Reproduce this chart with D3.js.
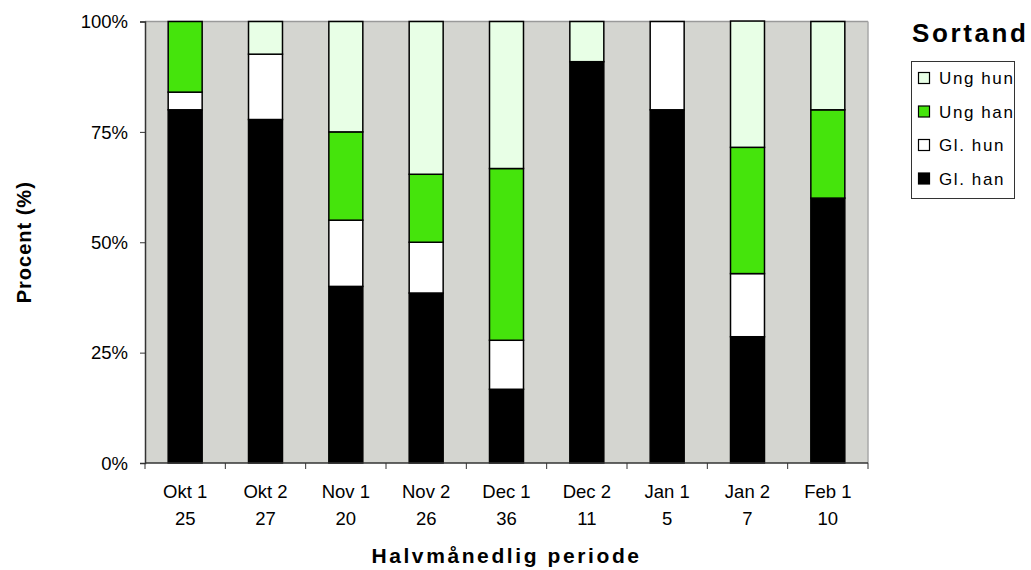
<!DOCTYPE html>
<html lang="da">
<head>
<meta charset="utf-8">
<title>Sortand - halvmånedlig periode</title>
<style>
	body { margin: 0; background: #ffffff; overflow: hidden; }
	svg { font-family: "Liberation Sans", Arial, Helvetica, sans-serif; }
	.tick text { font-size: 18px; fill: #000; }
</style>
</head>
<body>
<svg id="chart" width="1031" height="570"></svg>
<script src="https://cdn.jsdelivr.net/npm/d3@7/dist/d3.min.js"></script>
<script>
// perioder og antal fugle (n) pr. periode
var periods = ["Okt 1", "Okt 2", "Nov 1", "Nov 2", "Dec 1", "Dec 2", "Jan 1", "Jan 2", "Feb 1"];
var counts = [25, 27, 20, 26, 36, 11, 5, 7, 10];

// andel i procent, nederst til øverst
var glHan  = [80.0, 77.8, 40.0, 38.5, 16.7, 90.9, 80.0, 28.6, 60.0];
var glHun  = [4.0, 14.8, 15.0, 11.5, 11.1, 0, 20.0, 14.3, 0];
var ungHan = [16.0, 0, 20.0, 15.4, 38.9, 0, 0, 28.6, 20.0];
var ungHun = [0, 7.4, 25.0, 34.6, 33.3, 9.1, 0, 28.6, 20.0];

var seriesNames = ["Gl. han", "Gl. hun", "Ung han", "Ung hun"];
var seriesColors = ["#000000", "#ffffff", "#45e40c", "#e8ffe6"];
var yTicks = [0, 25, 50, 75, 100];

var margin = {top: 21.5, left: 145},
	width = 723,
	height = 441.5;

var svg = d3.select("#chart");
var g = svg.append("g").attr("transform", "translate(" + margin.left + "," + margin.top + ")");

var rows = periods.map(function(p, i) {
	return {period: p, "Gl. han": glHan[i], "Gl. hun": glHun[i], "Ung han": ungHan[i], "Ung hun": ungHun[i]};
});
var stacked = d3.stack().keys(seriesNames)(rows);

var pad = 0.577;
var x = d3.scaleBand().domain(periods).range([0, width]).paddingInner(pad).paddingOuter(pad / 2);
var y = d3.scaleLinear().domain([0, 100]).range([height, 0]);
var color = d3.scaleOrdinal().domain(seriesNames).range(seriesColors);

// plot baggrund
g.append("rect")
	.attr("width", width).attr("height", height)
	.attr("fill", "#d4d5d0");
g.append("line").attr("x1", 0).attr("x2", width).attr("y1", 0).attr("y2", 0)
	.attr("stroke", "#9a9a9a").attr("stroke-width", 1.5);
g.append("line").attr("x1", width).attr("x2", width).attr("y1", 0).attr("y2", height)
	.attr("stroke", "#a8a8a8").attr("stroke-width", 1.5);

// søjler
g.selectAll("g.layer")
	.data(stacked)
	.enter().append("g")
	.attr("class", "layer")
	.attr("fill", function(d) { return color(d.key); })
	.selectAll("rect")
	.data(function(d) { return d.filter(function(s) { return s[1] - s[0] > 0; }); })
	.enter().append("rect")
	.attr("x", function(d) { return x(d.data.period); })
	.attr("width", x.bandwidth())
	.attr("y", function(d) { return y(d[1]); })
	.attr("height", function(d) { return y(d[0]) - y(d[1]); })
	.attr("stroke", "#000")
	.attr("stroke-width", 1.5);

// y akse
var yAxis = g.append("g")
	.call(d3.axisLeft(y).tickValues(yTicks).tickSize(5).tickPadding(12)
		.tickFormat(function(d) { return d + "%"; }));
yAxis.select(".domain").attr("stroke", "#333").attr("stroke-width", 1.5);
yAxis.selectAll(".tick line").attr("stroke", "#333");
yAxis.selectAll(".tick text").style("font-size", "18.5px").attr("dy", "0.34em");

// x akse
var step = x.step();
var bounds = periods.map(function(p) { return x(p) - step * pad / 2; }).concat([width]);
var xAxis = g.append("g").attr("transform", "translate(0," + height + ")");
xAxis.append("line").attr("x1", 0).attr("x2", width)
	.attr("stroke", "#333").attr("stroke-width", 1.5);
xAxis.selectAll("line.tk").data(bounds).enter().append("line")
	.attr("class", "tk")
	.attr("x1", function(d) { return d; }).attr("x2", function(d) { return d; })
	.attr("y1", 0).attr("y2", 6)
	.attr("stroke", "#333");
var lbl = xAxis.selectAll("text.cat").data(periods).enter().append("text")
	.attr("class", "cat")
	.attr("text-anchor", "middle")
	.style("font-size", "18.5px")
	.attr("x", function(d) { return x(d) + x.bandwidth() / 2; });
lbl.append("tspan").attr("y", 35).text(function(d) { return d; })
	.attr("x", function(d) { return x(d) + x.bandwidth() / 2; });
lbl.append("tspan").attr("y", 62).text(function(d, i) { return counts[i]; })
	.attr("x", function(d) { return x(d) + x.bandwidth() / 2; });

// akse titler
svg.append("text")
	.attr("x", margin.left + width / 2).attr("y", 563)
	.attr("text-anchor", "middle")
	.style("font-size", "21px").style("font-weight", "bold").style("letter-spacing", "2.6px")
	.text("Halvmånedlig periode");

svg.append("text")
	.attr("transform", "translate(31," + (margin.top + height / 2) + ") rotate(-90)")
	.attr("text-anchor", "middle")
	.style("font-size", "20px").style("font-weight", "bold").style("letter-spacing", "1px")
	.text("Procent (%)");

// legende
svg.append("text")
	.attr("x", 912).attr("y", 42)
	.style("font-size", "26px").style("font-weight", "bold").style("letter-spacing", "2.6px")
	.text("Sortand");

var leg = svg.append("g");
leg.append("rect")
	.attr("x", 911.5).attr("y", 61.5).attr("width", 103).attr("height", 137)
	.attr("fill", "#fff").attr("stroke", "#333");
var items = leg.selectAll("g.item")
	.data(seriesNames.slice().reverse())
	.enter().append("g")
	.attr("class", "item")
	.attr("transform", function(d, i) { return "translate(918," + (78 + i * 33.5) + ")"; });
items.append("rect")
	.attr("x", 0.5).attr("y", -5.5).attr("width", 11).attr("height", 11)
	.attr("fill", function(d) { return color(d); })
	.attr("stroke", "#000").attr("stroke-width", 1.2);
items.append("text")
	.attr("x", 21).attr("y", 0).attr("dy", "0.36em")
	.style("font-size", "17px").style("letter-spacing", "1.6px")
	.text(function(d) { return d; });
</script>
</body>
</html>
